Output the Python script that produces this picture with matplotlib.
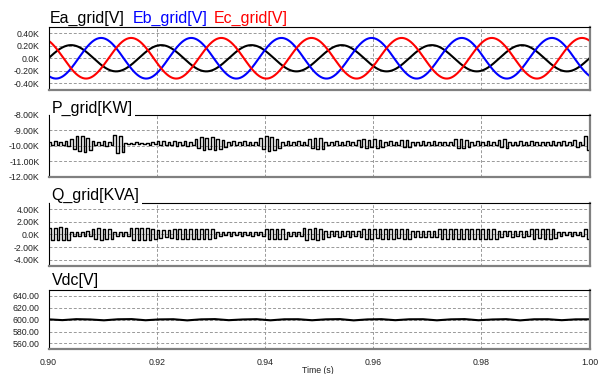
import numpy as np
import matplotlib
matplotlib.use("Agg")
import matplotlib.pyplot as plt

plt.rcParams['font.family'] = ['Liberation Sans', 'DejaVu Sans']

# Tiempo de la simulacion
t_start = 0.90
t_end = 1.00

# Tensiones de red: amplitud [kV], frecuencia [Hz], fase [grados]
grid_freq = 60.0
ea_amp = 0.21
eb_amp = 0.325
ec_amp = 0.325
ea_phase = 0.0
eb_phase = -120.0
ec_phase = 120.0

# Potencia activa [kW], dos escalones (alto, bajo) por ciclo de rizado
p_grid = [
    -9.74, -9.96, -9.70, -9.98, -9.76, -9.94, -9.72, -9.99,
    -9.55, -10.20, -9.40, -10.35, -9.35, -10.40, -9.50, -10.25,
    -9.72, -9.97, -9.75, -9.95, -9.70, -10.00, -9.74, -9.96,
    -9.30, -10.45, -9.35, -10.40,
    -9.80, -9.90, -9.82, -9.88, -9.79, -9.91, -9.81, -9.89, -9.80, -9.92, -9.78, -9.90,
    -9.72, -9.96, -9.70, -9.98, -9.74, -9.95, -9.68, -10.00, -9.73, -9.97, -9.70, -9.99, -9.75, -9.95,
    -9.55, -10.15, -9.45, -10.25, -9.50, -10.20, -9.42, -10.30, -9.55, -10.18, -9.60, -10.10,
    -9.74, -9.96, -9.72, -9.97, -9.76, -9.94, -9.71, -9.98, -9.75, -9.95, -9.73, -9.97,
    -9.50, -10.20, -9.38, -10.32, -9.42, -10.28, -9.55, -10.15,
    -9.74, -9.96, -9.72, -9.98, -9.76, -9.94, -9.71, -9.97, -9.75, -9.95,
    -9.55, -10.15, -9.48, -10.22, -9.52, -10.18,
    -9.73, -9.97, -9.75, -9.95, -9.71, -9.98, -9.74, -9.96, -9.72, -9.97, -9.76, -9.94,
    -9.62, -10.08, -9.58, -10.12, -9.60, -10.10, -9.56, -10.14, -9.64, -10.06,
    -9.74, -9.96, -9.72, -9.98, -9.75, -9.95,
    -9.60, -10.10, -9.62, -10.08,
    -9.73, -9.97, -9.75, -9.95, -9.71, -9.98, -9.74, -9.96,
    -9.72, -9.97, -9.76, -9.94, -9.73, -9.97, -9.75, -9.95,
    -9.58, -10.12, -9.55, -10.15, -9.60, -10.10,
    -9.74, -9.96, -9.72, -9.98, -9.75, -9.95, -9.71, -9.97, -9.74, -9.96,
    -9.60, -10.10, -9.58, -10.12,
    -9.73, -9.97, -9.75, -9.95, -9.71, -9.98, -9.74, -9.96, -9.72, -9.97, -9.76, -9.94,
    -9.73, -9.97, -9.75, -9.95, -9.71, -9.98, -9.74, -9.96, -9.72, -9.97, -9.76, -9.94,
    -9.62, -10.05, -9.74, -9.96,
    -9.40, -10.30,
]

# Potencia reactiva [kVA], dos escalones (alto, bajo) por ciclo de rizado
q_grid = [
    1.10, -0.90, 1.05, -0.85, 1.15, -0.95, 1.00, -0.80,
    0.45, -0.25, 0.40, -0.20, 0.45, -0.25, 0.50, -0.30,
    0.95, -0.75, 1.00, -0.80, 0.90, -0.70, 0.95, -0.75,
    0.45, -0.25, 0.40, -0.20, 0.45, -0.25,
    1.05, -0.85, 1.10, -0.90, 1.00, -0.80, 1.05, -0.85, 0.95, -0.75,
    0.70, -0.50, 0.65, -0.45, 0.70, -0.50,
    0.90, -0.70, 0.95, -0.75, 0.85, -0.65, 0.90, -0.70, 0.95, -0.75, 0.85, -0.65,
    0.90, -0.70, 0.80, -0.60,
    0.40, -0.20, 0.35, -0.15, 0.40, -0.20, 0.35, -0.15, 0.40, -0.20,
    0.35, -0.15, 0.40, -0.20, 0.35, -0.15, 0.40, -0.20,
    0.90, -0.70, 0.95, -0.75, 0.85, -0.65, 0.90, -0.70,
    0.45, -0.25, 0.40, -0.20, 0.45, -0.25,
    1.00, -0.80, 0.95, -0.75, 1.00, -0.80, 0.90, -0.70,
    0.55, -0.35, 0.50, -0.30, 0.55, -0.35, 0.50, -0.30, 0.55, -0.35, 0.50, -0.30, 0.55, -0.35,
    0.85, -0.65, 0.90, -0.70, 0.80, -0.60, 0.85, -0.65, 0.90, -0.70, 0.85, -0.65,
    0.80, -0.60, 0.90, -0.70, 0.85, -0.65,
    0.60, -0.40, 0.55, -0.35, 0.60, -0.40, 0.55, -0.35, 0.60, -0.40,
    0.90, -0.70, 0.95, -0.75, 0.85, -0.65, 0.90, -0.70, 0.95, -0.75, 0.90, -0.70,
    0.85, -0.65, 0.95, -0.75, 0.90, -0.70, 0.85, -0.65, 0.90, -0.70,
    0.55, -0.35, 0.50, -0.30, 0.55, -0.35, 0.50, -0.30, 0.55, -0.35, 0.50, -0.30,
    0.85, -0.65, 0.80, -0.60, 0.90, -0.70, 0.85, -0.65, 0.80, -0.60,
    0.40, -0.20, 0.35, -0.15, 0.40, -0.20, 0.35, -0.15, 0.40, -0.20,
    0.95, -0.75,
]

# Tension del bus de continua [V]
vdc = [
    600.5, 599.2, 600.8, 600.3, 598.9, 600.6, 600.9, 599.0, 600.4, 600.7,
    598.8, 600.5, 600.9, 599.1, 600.3, 600.8, 598.9, 600.6, 600.7, 599.0,
    600.5, 600.9, 598.8, 600.4, 600.8, 599.1, 600.6, 600.7, 598.9, 600.5,
    600.9, 599.0, 600.3, 600.8, 598.8, 600.6, 600.7, 599.1, 600.5, 600.6,
]

x_ticks = [0.90, 0.92, 0.94, 0.96, 0.98, 1.00]
e_ticks = [0.4, 0.2, 0.0, -0.2, -0.4]
e_labels = ["0.40K", "0.20K", "0.0K", "-0.20K", "-0.40K"]
p_ticks = [-8, -9, -10, -11, -12]
p_labels = ["-8.00K", "-9.00K", "-10.00K", "-11.00K", "-12.00K"]
q_ticks = [4, 2, 0, -2, -4]
q_labels = ["4.00K", "2.00K", "0.0K", "-2.00K", "-4.00K"]
v_ticks = [640, 620, 600, 580, 560]
v_labels = ["640.00", "620.00", "600.00", "580.00", "560.00"]

W, H = 598, 374
fig = plt.figure(figsize=(W / 100, H / 100), dpi=100)


def add_panel(top, bottom):
    left, right = 48.5, 589.5
    return fig.add_axes([left / W, 1 - bottom / H, (right - left) / W, (bottom - top) / H])


def style(ax, ticks, labels, ylim, show_x=False):
    ax.set_xlim(t_start, t_end)
    ax.set_ylim(*ylim)
    ax.set_yticks(ticks)
    ax.set_yticklabels(labels)
    ax.set_xticks(x_ticks)
    if show_x:
        ax.set_xticklabels(["%.2f" % v for v in x_ticks])
    else:
        ax.set_xticklabels([])
    ax.tick_params(length=0, labelsize=6.3, labelcolor="#222222", pad=6.5)
    ax.grid(True, color="#999999", linestyle=(0, (3, 2)), linewidth=0.7)
    ax.set_axisbelow(True)
    for s in ("top", "left"):
        ax.spines[s].set_color("black")
        ax.spines[s].set_linewidth(0.8)
    for s in ("bottom", "right"):
        ax.spines[s].set_color("#808080")
        ax.spines[s].set_linewidth(1.6)


def title(x, y, txt, color="black", box=False):
    kw = {}
    if box:
        kw["bbox"] = dict(facecolor="white", edgecolor="none", pad=1.5)
    fig.text(x / W, 1 - y / H, txt, color=color, fontsize=11.5,
             va="baseline", ha="left", zorder=10, **kw)


def step_line(ax, values):
    ts = np.linspace(t_start, t_end, len(values) + 1)
    ax.step(ts, list(values) + [values[-1]], where="post", color="black", lw=1.0)


# Panel 1: tensiones de red
ax1 = add_panel(27, 89.5)
t = np.linspace(t_start, t_end, 2001)
w = 2 * np.pi * grid_freq * (t - t_start)
ax1.plot(t, ea_amp * np.sin(w + np.radians(ea_phase)), color="black", lw=1.5)
ax1.plot(t, eb_amp * np.sin(w + np.radians(eb_phase)), color="#0000ff", lw=1.5)
ax1.plot(t, ec_amp * np.sin(w + np.radians(ec_phase)), color="#ff0000", lw=1.5)
style(ax1, e_ticks, e_labels, (-0.5, 0.5))
title(49.5, 23, "Ea_grid[V]")
title(133, 23, "Eb_grid[V]", color="#0000ff")
title(214, 23, "Ec_grid[V]", color="#ff0000")

# Panel 2: potencia activa
ax2 = add_panel(114.5, 177)
step_line(ax2, p_grid)
style(ax2, p_ticks, p_labels, (-12, -8))
title(51.7, 113.3, "P_grid[KW]", box=True)

# Panel 3: potencia reactiva
ax3 = add_panel(203, 266)
step_line(ax3, q_grid)
style(ax3, q_ticks, q_labels, (-5, 5))
title(51.7, 200, "Q_grid[KVA]", box=True)

# Panel 4: tension del bus DC
ax4 = add_panel(290, 349.3)
tv = np.linspace(t_start, t_end, len(vdc))
ax4.plot(tv, vdc, color="black", lw=1.5)
style(ax4, v_ticks, v_labels, (550, 650), show_x=True)
title(51.7, 285, "Vdc[V]")
fig.text(318 / W, 1 - 370.5 / H, "Time (s)", fontsize=6.3, color="#222222",
         ha="center", va="center")

fig.savefig("out.png", dpi=100)
